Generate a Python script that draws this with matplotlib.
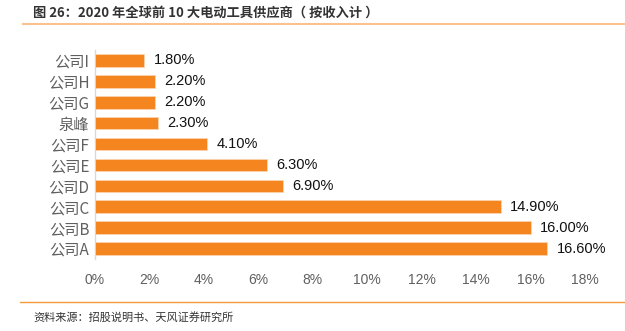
import matplotlib
matplotlib.use("Agg")
import matplotlib.pyplot as plt
from matplotlib.lines import Line2D

plt.rcParams["font.family"] = ["Noto Sans CJK SC", "DejaVu Sans"]

# ---- data (bottom to top) ----
suppliers = ["公司A", "公司B", "公司C", "公司D", "公司E", "公司F", "泉峰", "公司G", "公司H", "公司I"]
shares = [16.6, 16.0, 14.9, 6.9, 6.3, 4.1, 2.3, 2.2, 2.2, 1.8]
x_ticks = [0, 2, 4, 6, 8, 10, 12, 14, 16, 18]

TITLE = "图 26：2020 年全球前 10 大电动工具供应商（ 按收入计 ）"
SOURCE = "资料来源：招股说明书、天风证券研究所"

BAR_COLOR = "#F5861F"

fig = plt.figure(figsize=(6.25, 3.31), dpi=100)
fig.patch.set_facecolor("white")
ax = fig.add_axes([0.152, 0.2175, 0.784, 0.6315])

y_pos = range(len(suppliers))
ax.barh(y_pos, shares, height=0.6, color=BAR_COLOR, edgecolor="#FAD3AE", linewidth=0.6, zorder=3)

for y, v in zip(y_pos, shares):
    ax.annotate(f"{v:.2f}%", (v, y), xytext=(7, 0), textcoords="offset points",
                ha="left", va="center", fontsize=10.5, color="#111111",
                family=["Liberation Sans", "DejaVu Sans"])

ax.set_xlim(0, 18)
ax.set_ylim(-0.5, len(suppliers) - 0.5)
ax.set_yticks(list(y_pos))
ax.set_yticklabels(suppliers, fontsize=11, color="#606060")
ax.set_xticks(x_ticks)
ax.set_xticklabels([f"{t}%" for t in x_ticks], fontsize=10, color="#606060",
                   family=["Liberation Sans", "DejaVu Sans"])
ax.tick_params(axis="both", length=0)
ax.tick_params(axis="x", pad=10)
ax.tick_params(axis="y", pad=4)

for side in ("top", "right", "bottom"):
    ax.spines[side].set_visible(False)
ax.spines["left"].set_color("#D9D9D9")
ax.spines["left"].set_linewidth(1.0)

# ---- report frame: title, rules, source ----
fig.text(0.053, 0.961, TITLE, fontsize=9.5, fontweight="bold", color="#333333",
         ha="left", va="center")
fig.add_artist(Line2D([0.037, 1.0], [0.927, 0.927], color="#F9C28E", linewidth=1.5))
fig.add_artist(Line2D([0.032, 1.0], [0.088, 0.088], color="#F59A3C", linewidth=1.0))
fig.text(0.053, 0.04, SOURCE, fontsize=8, color="#333333", ha="left", va="center")

fig.savefig("out.png", dpi=100, facecolor="white")
